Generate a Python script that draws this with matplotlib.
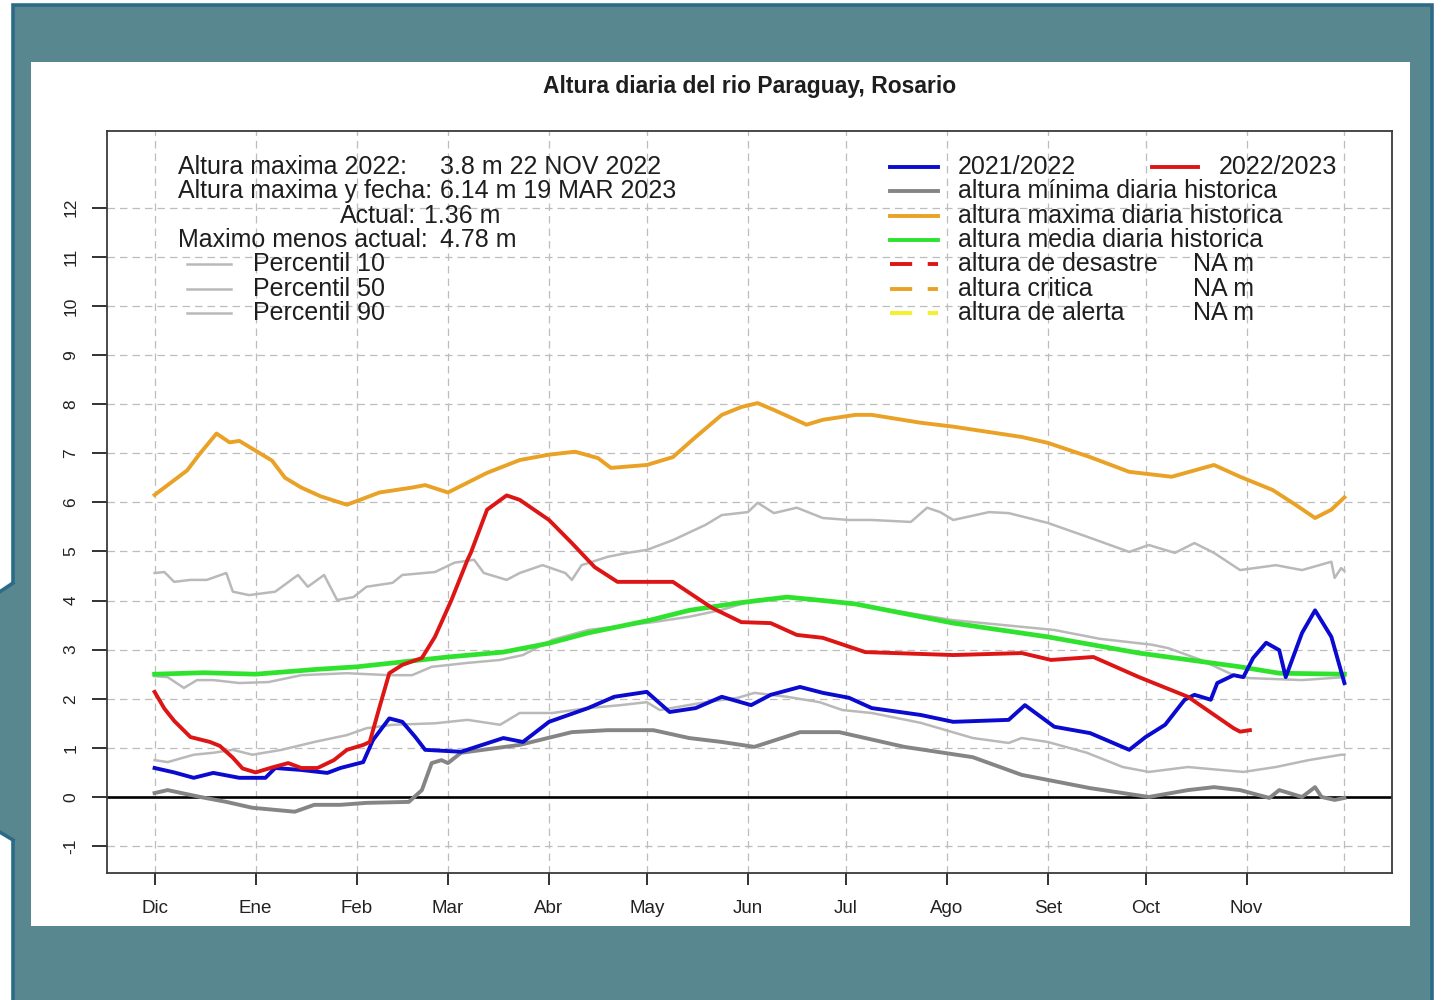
import matplotlib
matplotlib.use("Agg")
import matplotlib.pyplot as plt
from matplotlib.patches import Rectangle, Polygon
from matplotlib.lines import Line2D

plt.rcParams['font.family'] = ['Liberation Sans', 'DejaVu Sans']
plt.rcParams['axes.unicode_minus'] = False

# dias contados desde el 1 de diciembre
meses = ['Dic', 'Ene', 'Feb', 'Mar', 'Abr', 'May', 'Jun', 'Jul', 'Ago', 'Set', 'Oct', 'Nov']
inicio_mes = [0, 31, 62, 90, 121, 151, 182, 212, 243, 274, 304, 335]
fin_ciclo = 365

# altura maxima diaria historica
dias_max = [0, 5, 10, 14, 19, 23, 26, 31, 36, 40, 45, 51, 59, 63, 69, 79, 83, 90, 102, 112,
            121, 129, 136, 140, 151, 159, 166, 174, 180, 185, 190, 200, 205, 215, 220, 235, 245, 256, 266, 274,
            287, 299, 312, 325, 333, 343, 350, 356, 361, 365]
alt_max = [6.15, 6.4, 6.65, 7.0, 7.4, 7.22, 7.25, 7.05, 6.85, 6.5, 6.3, 6.12, 5.95, 6.05, 6.2, 6.3, 6.35, 6.2, 6.6, 6.86,
           6.97, 7.03, 6.9, 6.7, 6.76, 6.92, 7.33, 7.78, 7.94, 8.02, 7.88, 7.58, 7.68, 7.78, 7.78, 7.62, 7.54, 7.43, 7.33, 7.21,
           6.92, 6.62, 6.52, 6.76, 6.52, 6.25, 5.95, 5.68, 5.85, 6.1]

# altura media diaria historica
dias_media = [0, 15, 31, 50, 62, 76, 90, 107, 121, 133, 152, 164, 179, 194, 205, 215, 245, 274, 302, 333, 345, 365]
alt_media = [2.5, 2.53, 2.5, 2.6, 2.65, 2.75, 2.85, 2.95, 3.13, 3.34, 3.6, 3.8, 3.95, 4.07, 4.0, 3.93, 3.54, 3.26,
             2.93, 2.65, 2.52, 2.5]

# altura minima diaria historica
dias_min = [0, 4, 14, 22, 30, 43, 49, 57, 65, 78, 82, 85, 88, 90, 94, 112, 128, 139, 153, 164,
            174, 184, 198, 210, 230, 251, 266, 287, 297, 305, 317, 325, 333, 342, 345, 352, 356, 358, 362, 365]
alt_min = [0.08, 0.14, 0.0, -0.1, -0.22, -0.3, -0.16, -0.16, -0.12, -0.1, 0.14, 0.69, 0.75, 0.69, 0.9, 1.06, 1.32, 1.36, 1.36, 1.2,
           1.12, 1.02, 1.32, 1.32, 1.02, 0.81, 0.45, 0.18, 0.08, 0.0, 0.14, 0.2, 0.14, -0.02, 0.14, 0.0, 0.2, 0.0, -0.06, -0.02]

# percentiles
dias_p90 = [0, 3, 6, 11, 16, 22, 24, 29, 37, 44, 47, 52, 56, 61, 65, 73, 76, 86, 92, 98,
            101, 108, 112, 119, 126, 128, 131, 139, 145, 151, 159, 169, 174, 182, 185, 190, 197, 205, 213, 220,
            232, 237, 241, 245, 256, 262, 274, 286, 299, 305, 313, 319, 325, 333, 344, 352, 361, 362, 364, 365]
p90 = [4.56, 4.58, 4.38, 4.42, 4.42, 4.56, 4.18, 4.11, 4.18, 4.52, 4.28, 4.52, 4.01, 4.07, 4.28, 4.36, 4.52, 4.58, 4.77, 4.83,
       4.56, 4.42, 4.56, 4.72, 4.56, 4.42, 4.72, 4.89, 4.97, 5.03, 5.23, 5.54, 5.74, 5.8, 5.99, 5.78, 5.89, 5.68, 5.64, 5.64,
       5.6, 5.89, 5.8, 5.64, 5.8, 5.78, 5.58, 5.3, 4.99, 5.13, 4.97, 5.17, 4.97, 4.62, 4.72, 4.62, 4.79, 4.46, 4.66, 4.6]

dias_p50 = [0, 4, 9, 13, 18, 26, 35, 45, 59, 72, 79, 85, 96, 106, 113, 122, 133, 145, 153, 164,
            174, 184, 194, 204, 215, 245, 276, 290, 306, 311, 321, 331, 336, 352, 365]
p50 = [2.46, 2.44, 2.22, 2.38, 2.38, 2.32, 2.34, 2.48, 2.52, 2.48, 2.48, 2.65, 2.73, 2.79, 2.89, 3.2, 3.4, 3.5, 3.56, 3.67,
       3.81, 4.01, 4.07, 4.01, 3.92, 3.6, 3.4, 3.22, 3.1, 3.03, 2.79, 2.48, 2.42, 2.38, 2.44]

dias_p10 = [0, 4, 12, 18, 24, 30, 39, 49, 59, 65, 73, 86, 96, 106, 112, 122, 133, 143, 151, 155,
            169, 179, 184, 194, 204, 211, 220, 235, 251, 262, 266, 274, 286, 297, 305, 317, 327, 334, 344, 354, 364, 365]
p10 = [0.75, 0.71, 0.86, 0.9, 0.96, 0.86, 0.96, 1.12, 1.26, 1.4, 1.47, 1.5, 1.57, 1.47, 1.71, 1.71, 1.81, 1.87, 1.93, 1.77,
       1.93, 2.02, 2.12, 2.04, 1.93, 1.77, 1.71, 1.51, 1.2, 1.1, 1.2, 1.12, 0.9, 0.61, 0.51, 0.61, 0.55, 0.51, 0.61, 0.75, 0.86, 0.86]

# ciclo 2021/2022
dias_2122 = [0, 6, 12, 18, 26, 34, 37, 45, 53, 57, 64, 67, 72, 76, 80, 83, 94, 107, 113, 121,
             133, 141, 151, 158, 166, 174, 183, 189, 198, 205, 213, 220, 235, 245, 262, 267, 276, 287, 299, 304,
             310, 316, 319, 324, 326, 331, 334, 337, 341, 345, 347, 352, 356, 361, 365]
alt_2122 = [0.59, 0.5, 0.39, 0.49, 0.39, 0.39, 0.59, 0.55, 0.49, 0.59, 0.71, 1.16, 1.6, 1.53, 1.22, 0.96, 0.92, 1.2, 1.12, 1.53,
            1.81, 2.04, 2.14, 1.73, 1.81, 2.04, 1.87, 2.08, 2.24, 2.12, 2.02, 1.81, 1.67, 1.53, 1.57, 1.87, 1.43, 1.3, 0.96, 1.22,
            1.47, 1.98, 2.08, 1.98, 2.32, 2.48, 2.44, 2.83, 3.14, 2.99, 2.44, 3.34, 3.8, 3.26, 2.32]

# ciclo 2022/2023 (hasta el dato actual)
dias_2223 = [0, 3, 6, 11, 17, 20, 24, 27, 31, 36, 41, 45, 50, 55, 59, 64, 66, 69, 72, 76,
             82, 86, 91, 96, 97, 102, 108, 112, 121, 128, 135, 142, 151, 159, 171, 180, 189, 197, 205, 218,
             245, 266, 275, 288, 302, 317, 331, 333, 336]
alt_2223 = [2.14, 1.8, 1.55, 1.22, 1.12, 1.04, 0.8, 0.58, 0.5, 0.6, 0.69, 0.59, 0.59, 0.75, 0.96, 1.06, 1.12, 1.83, 2.52, 2.69,
            2.83, 3.26, 4.0, 4.83, 4.97, 5.85, 6.14, 6.05, 5.64, 5.17, 4.68, 4.38, 4.38, 4.38, 3.85, 3.56, 3.54, 3.3, 3.24, 2.95,
            2.89, 2.93, 2.79, 2.85, 2.44, 2.04, 1.4, 1.33, 1.36]

AZUL = '#0a0ad0'
ROJO = '#dd1515'
GRIS = '#858585'
GRIS_CLARO = '#b9b9b9'
NARANJA = '#e9a226'
VERDE = '#2ee22e'
AMARILLO = '#f4f02a'
TEAL = '#58878f'
BORDE = '#2c6b88'
TXT = '#1e1e1e'

W, H = 1442, 1000
fig = plt.figure(figsize=(W / 100, H / 100), dpi=100)
fig.patch.set_facecolor('white')


def fp(x, y):
    return x / W, 1 - y / H


# marco de fondo con la punta del globo a la izquierda (por debajo de los ejes)
fig.patches.append(Rectangle(fp(13, 1010), 1419 / W, 1005 / H, transform=fig.transFigure,
                             facecolor=TEAL, edgecolor=BORDE, linewidth=2.6, zorder=-10))
fig.patches.append(Polygon([fp(22, 583), fp(13, 583), fp(-2, 593), fp(-2, 831), fp(13, 840), fp(22, 840)],
                           closed=True, transform=fig.transFigure, facecolor=TEAL, edgecolor='none', zorder=-9))
for xs, ys in (([13, -2], [583, 593]), ([-2, 13], [831, 840])):
    pts = [fp(a, b) for a, b in zip(xs, ys)]
    fig.lines.append(Line2D([p[0] for p in pts], [p[1] for p in pts], transform=fig.transFigure,
                            color=BORDE, linewidth=2.6, zorder=-8))
fig.patches.append(Rectangle(fp(31, 926), 1379 / W, 864 / H, transform=fig.transFigure,
                             facecolor='white', edgecolor='none', zorder=-7))

# area de grafico
AX_L, AX_R, AX_T, AX_B = 107, 1392, 131, 873
ax = fig.add_axes([AX_L / W, 1 - AX_B / H, (AX_R - AX_L) / W, (AX_B - AX_T) / H])
ax.set_xlim(-14.6, 379.6)
ax.set_ylim(-1.548, 13.56)

for x in inicio_mes + [fin_ciclo]:
    ax.axvline(x, color='#bdbdbd', lw=0.9, dashes=(6, 4), zorder=1)
for y in range(-1, 13):
    ax.axhline(y, color='#bdbdbd', lw=0.9, dashes=(6, 4), zorder=1)
ax.axhline(0, color='black', lw=1.9, zorder=2)

ax.plot(dias_p90, p90, color=GRIS_CLARO, lw=1.8, zorder=3)
ax.plot(dias_p50, p50, color=GRIS_CLARO, lw=1.8, zorder=3)
ax.plot(dias_p10, p10, color=GRIS_CLARO, lw=1.8, zorder=3)
ax.plot(dias_min, alt_min, color=GRIS, lw=2.8, zorder=4, solid_joinstyle='round')
ax.plot(dias_max, alt_max, color=NARANJA, lw=2.8, zorder=4, solid_joinstyle='round')
ax.plot(dias_media, alt_media, color=VERDE, lw=3.4, zorder=4, solid_joinstyle='round')
ax.plot(dias_2122, alt_2122, color=AZUL, lw=2.8, zorder=5, solid_joinstyle='round')
ax.plot(dias_2223, alt_2223, color=ROJO, lw=2.8, zorder=6, solid_joinstyle='round')

ax.set_xticks(inicio_mes, meses)
ax.set_yticks(range(-1, 13))
ax.tick_params(axis='x', length=8.5, width=1.3, pad=11, labelsize=13.5, colors='#222222')
ax.tick_params(axis='y', length=10.5, width=1.3, pad=10, labelsize=12.5, colors='#222222', labelrotation=90)
for lab in ax.get_yticklabels():
    lab.set_va('center')
for sp in ax.spines.values():
    sp.set_color('#3a3a3a')
    sp.set_linewidth(1.3)

ax.set_title('Altura diaria del rio Paraguay, Rosario', fontsize=16.5, fontweight='bold',
             color=TXT, y=(AX_B - 87) / (AX_B - AX_T), va='center', pad=0)


def axp(x, y):
    return (x - AX_L) / (AX_R - AX_L), (AX_B - y) / (AX_B - AX_T)


def texto(x, y, s):
    ax.text(*axp(x, y), s, transform=ax.transAxes, fontsize=18, color=TXT, va='center', ha='left')


def muestra(x0, x1, y, **kw):
    (a, b), (c, _) = axp(x0, y), axp(x1, y)
    ax.add_line(Line2D([a, c], [b, b], transform=ax.transAxes, clip_on=False, **kw))


# resumen de maximos y valor actual
i_max = alt_2223.index(max(alt_2223))
i_max_prev = alt_2122.index(max(alt_2122))
actual = alt_2223[-1]
texto(178, 167, 'Altura maxima 2022:')
texto(440, 167, f'{alt_2122[i_max_prev]:.1f} m 22 NOV 2022')
texto(178, 191, 'Altura maxima y fecha:')
texto(440, 191, f'{alt_2223[i_max]:.2f} m 19 MAR 2023')
texto(340, 216, 'Actual:')
texto(424, 216, f'{actual:.2f} m')
texto(178, 240, 'Maximo menos actual:')
texto(440, 240, f'{alt_2223[i_max] - actual:.2f} m')
for y, nombre in zip([264, 289, 313], ['Percentil 10', 'Percentil 50', 'Percentil 90']):
    muestra(187, 231, y, color=GRIS_CLARO, lw=1.8)
    texto(253, y, nombre)

# leyenda de series y umbrales (el patron de trazos escala con el grosor)
trazo = (5.7, 4)
filas = [167, 191, 216, 240, 264, 289, 313]
series = [
    ('2021/2022', dict(color=AZUL, lw=2.8)),
    ('altura mínima diaria historica', dict(color=GRIS, lw=2.8)),
    ('altura maxima diaria historica', dict(color=NARANJA, lw=2.8)),
    ('altura media diaria historica', dict(color=VERDE, lw=2.8)),
    ('altura de desastre', dict(color=ROJO, lw=2.8, dashes=trazo)),
    ('altura critica', dict(color=NARANJA, lw=2.8, dashes=trazo)),
    ('altura de alerta', dict(color=AMARILLO, lw=2.8, dashes=trazo)),
]
for y, (nombre, estilo) in zip(filas, series):
    muestra(890, 938, y, **estilo)
    texto(958, y, nombre)
for y in filas[4:]:
    texto(1193, y, 'NA m')
muestra(1152, 1198, 167, color=ROJO, lw=2.8)
texto(1219, 167, '2022/2023')

fig.savefig('out.png', dpi=100, facecolor=fig.get_facecolor())
